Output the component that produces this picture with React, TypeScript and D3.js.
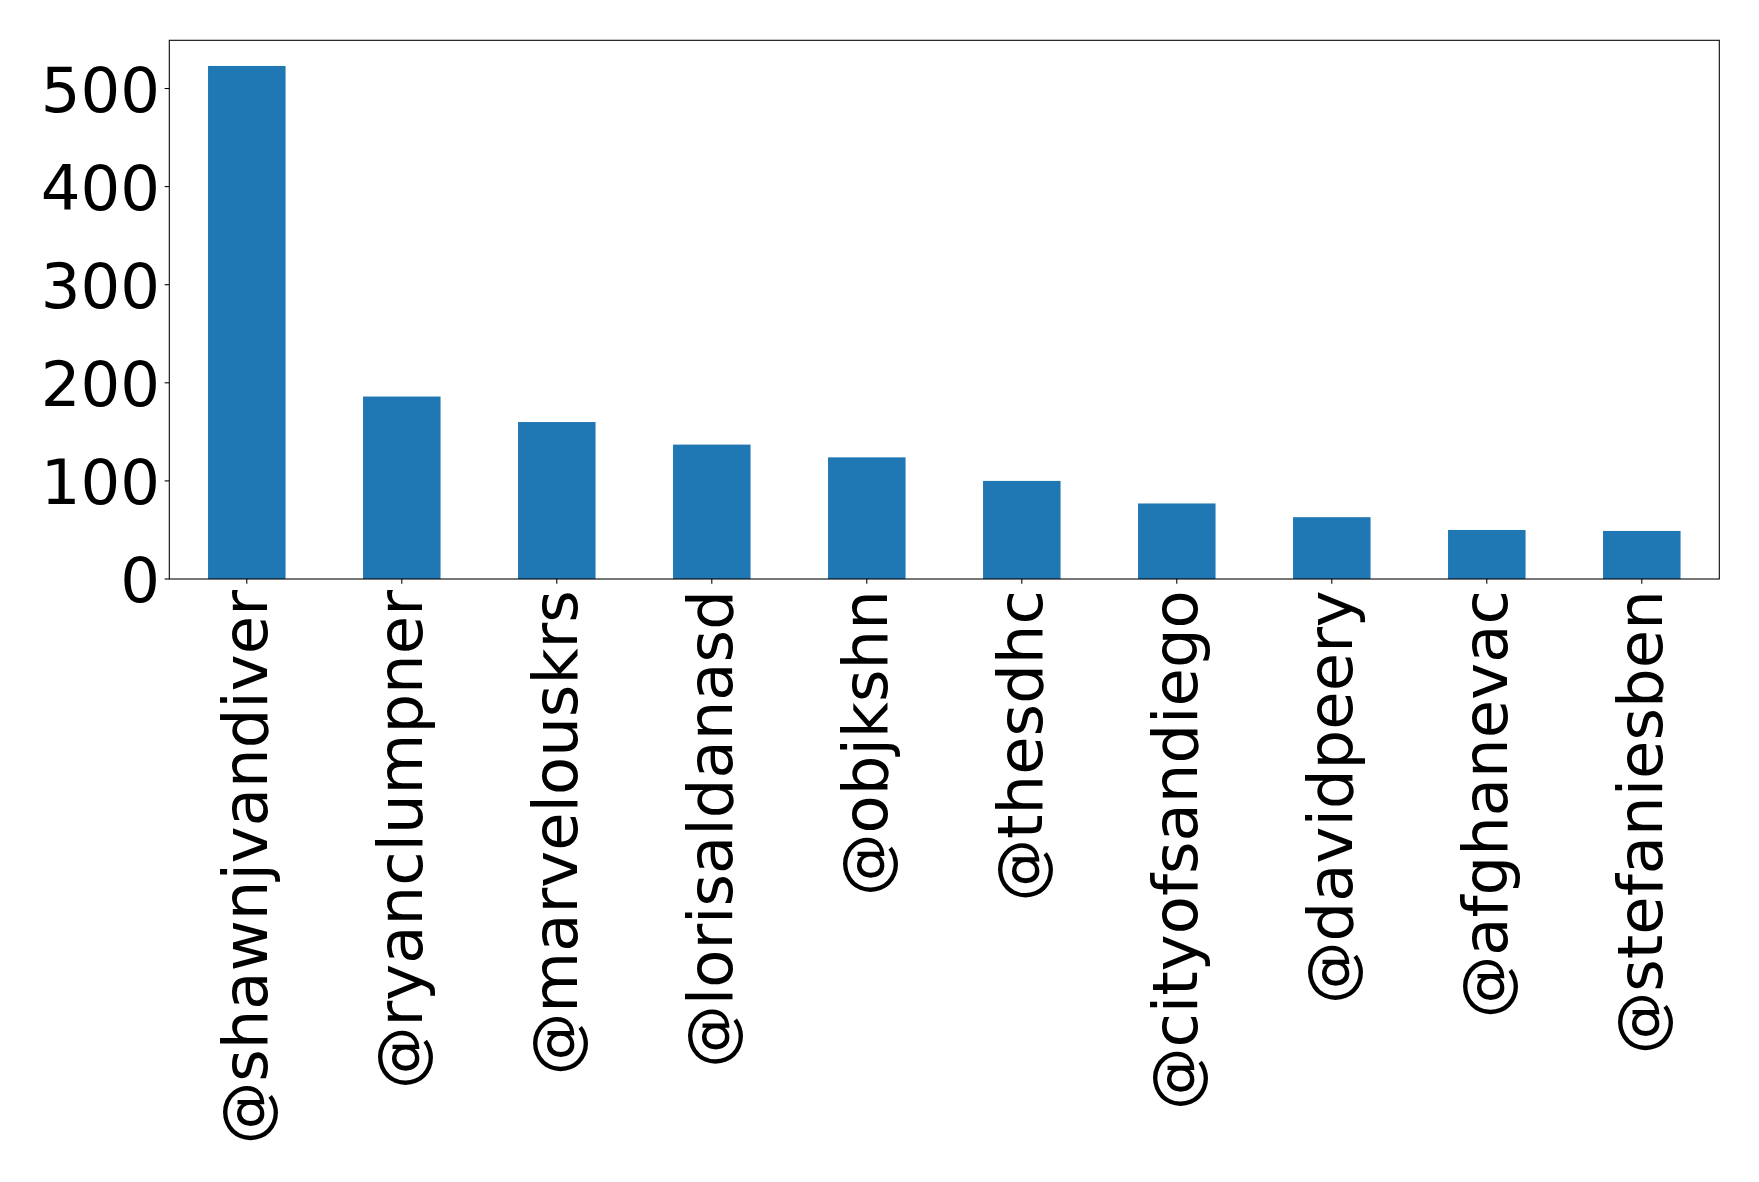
import React from "react";
import * as d3 from "d3";

const categories = [
  "@shawnjvandiver",
  "@ryanclumpner",
  "@marvelouskrs",
  "@lorisaldanasd",
  "@objkshn",
  "@thesdhc",
  "@cityofsandiego",
  "@davidpeery",
  "@afghanevac",
  "@stefaniesben",
];
const values = [523, 186, 160, 137, 124, 100, 77, 63, 50, 49];
const yTicks = [0, 100, 200, 300, 400, 500];

const W = 1759;
const H = 1182;
const left = 169.3;
const right = 1719.3;
const top = 40.3;
const bottom = 579;
const FONT = "'DejaVu Sans', sans-serif";
const FS = 62.5;
const TICK = 4.67;

export default function App() {
  const x = d3
    .scaleBand<string>()
    .domain(categories)
    .range([left, right])
    .paddingInner(0.5)
    .paddingOuter(0.25);
  const yMax = (d3.max(values) as number) * 1.05;
  const y = d3.scaleLinear().domain([0, yMax]).range([bottom, top]);

  return (
    <svg
      width={W}
      height={H}
      style={{ position: "absolute", left: 0, top: 0, background: "#fff" }}
      fontFamily={FONT}
    >
      <rect x={0} y={0} width={W} height={H} fill="#fff" />
      {categories.map((c, i) => (
        <rect
          key={c}
          x={x(c)}
          y={y(values[i])}
          width={x.bandwidth()}
          height={y(0) - y(values[i])}
          fill="#1f77b4"
        />
      ))}
      {/* frame */}
      <rect
        x={left}
        y={top}
        width={right - left}
        height={bottom - top}
        fill="none"
        stroke="#000"
        strokeWidth={1.07}
      />
      {/* y axis ticks */}
      {yTicks.map((t) => (
        <g key={t}>
          <line x1={left - TICK} x2={left} y1={y(t)} y2={y(t)} stroke="#000" strokeWidth={1.07} />
          <text
            x={left - TICK - 4.67}
            y={y(t)}
            dy="0.37em"
            textAnchor="end"
            fontSize={FS}
            fill="#000"
          >
            {t}
          </text>
        </g>
      ))}
      {/* x axis ticks */}
      {categories.map((c) => {
        const cx = (x(c) as number) + x.bandwidth() / 2;
        return (
          <g key={c}>
            <line x1={cx} x2={cx} y1={bottom} y2={bottom + TICK} stroke="#000" strokeWidth={1.07} />
            <text
              transform={`translate(${cx + 20},${bottom + TICK + 6.5}) rotate(-90)`}
              textAnchor="end"
              fontSize={FS}
              fill="#000"
            >
              {c}
            </text>
          </g>
        );
      })}
    </svg>
  );
}
